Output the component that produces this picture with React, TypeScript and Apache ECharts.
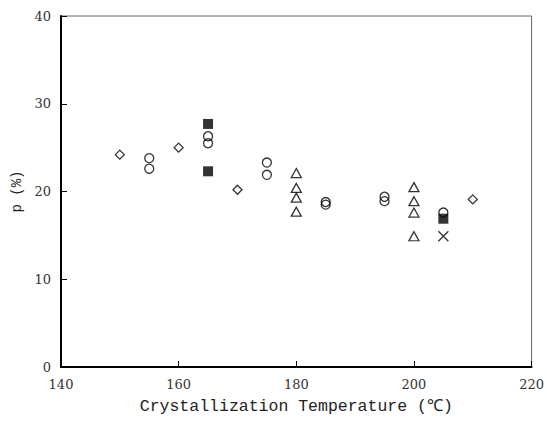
import React, { useEffect, useRef } from "react";
import * as echarts from "echarts";

const xTicks = [140, 160, 180, 200, 220];
const yTicks = [0, 10, 20, 30, 40];

const diamondData: [number, number][] = [
  [150, 24.2], [160, 25.0], [170, 20.2], [210, 19.1],
];
const circleData: [number, number][] = [
  [155, 23.8], [155, 22.6], [165, 26.3], [165, 25.5], [175, 23.3], [175, 21.9],
  [185, 18.8], [185, 18.5], [195, 19.4], [195, 18.9], [205, 17.6],
];
const squareData: [number, number][] = [
  [165, 27.7], [165, 22.3], [205, 16.9],
];
const triangleData: [number, number][] = [
  [180, 22.1], [180, 20.4], [180, 19.3], [180, 17.7],
  [200, 20.5], [200, 18.9], [200, 17.6], [200, 14.9],
];
const crossData: [number, number][] = [[205, 14.9]];

const hollow = { color: "none", borderColor: "#000", borderWidth: 1.3 };

export default function App() {
  const ref = useRef<HTMLDivElement>(null);
  useEffect(() => {
    if (!ref.current) return;
    const chart = echarts.init(ref.current, undefined, { renderer: "svg" });
    const labelFont = { fontFamily: "DejaVu Serif", fontSize: 13, color: "#333" };
    chart.setOption({
      animation: false,
      backgroundColor: "#fff",
      grid: {
        left: 61, right: 15, top: 16, bottom: 68,
        show: true, borderColor: "#666", borderWidth: 1,
      },
      xAxis: {
        type: "value",
        min: xTicks[0], max: xTicks[xTicks.length - 1], interval: 20,
        splitLine: { show: false },
        axisLine: { lineStyle: { color: "#000", width: 2 } },
        axisTick: { inside: true, length: 6, lineStyle: { color: "#000" } },
        axisLabel: { ...labelFont, margin: 11 },
        name: "Crystallization Temperature (℃)",
        nameLocation: "middle",
        nameGap: 31,
        nameTextStyle: { fontFamily: "Liberation Mono", fontSize: 16.5, color: "#222" },
      },
      yAxis: {
        type: "value",
        min: yTicks[0], max: yTicks[yTicks.length - 1], interval: 10,
        splitLine: { show: false },
        axisLine: { lineStyle: { color: "#000", width: 2 } },
        axisTick: { inside: true, length: 6, lineStyle: { color: "#000" } },
        axisLabel: { ...labelFont, margin: 10 },
        name: "p (%)",
        nameLocation: "middle",
        nameRotate: 90,
        nameGap: 25,
        nameTextStyle: { fontFamily: "Liberation Mono", fontSize: 14, color: "#222" },
      },
      series: [
        { type: "scatter", data: diamondData, symbol: "diamond", symbolSize: [9, 9], itemStyle: hollow },
        { type: "scatter", data: circleData, symbol: "circle", symbolSize: 9, itemStyle: hollow },
        { type: "scatter", data: squareData, symbol: "rect", symbolSize: 10, itemStyle: { color: "#000" } },
        { type: "scatter", data: triangleData, symbol: "triangle", symbolSize: [10, 9], itemStyle: hollow },
        {
          type: "scatter", data: crossData, symbol: "path://M0 0L10 10M10 0L0 10", symbolSize: 10,
          itemStyle: { color: "none", borderColor: "#000", borderWidth: 1.3 },
        },
      ],
    });
    return () => chart.dispose();
  }, []);
  return <div ref={ref} style={{ width: 547, height: 435, position: "absolute", left: 0, top: 0 }} />;
}
